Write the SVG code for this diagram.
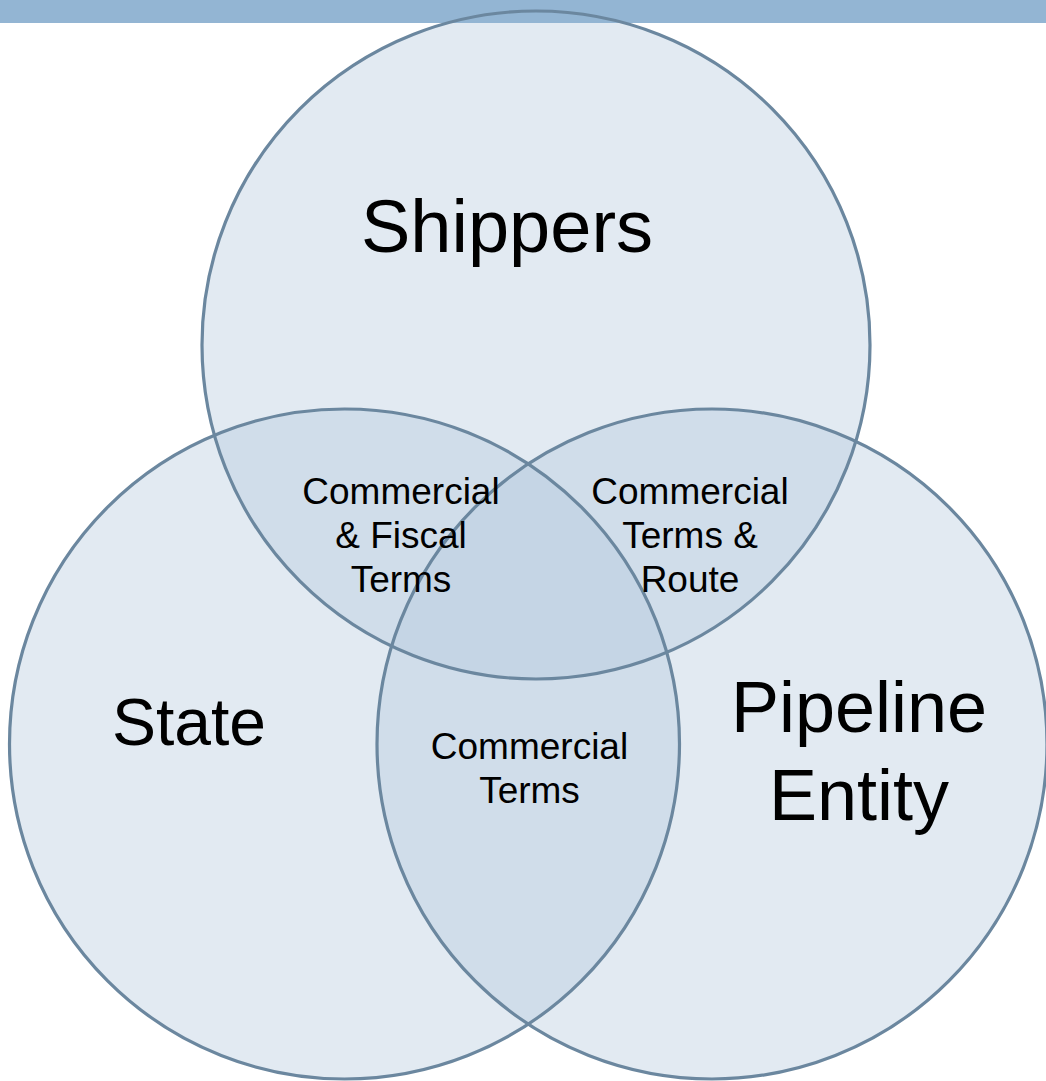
<svg xmlns="http://www.w3.org/2000/svg" width="1046" height="1081" viewBox="0 0 1046 1081">
<style>
.fill{fill:#B3C8DD;fill-opacity:0.38;stroke:none}
.ring{fill:none;stroke:#6B879F;stroke-width:3.2}
.big{font-family:"Liberation Sans",Arial,sans-serif;fill:#000;text-anchor:middle}
.small{font-family:"Liberation Sans",Arial,sans-serif;font-size:37px;fill:#000;text-anchor:middle}
</style>
<rect width="1046" height="1081" fill="#FFFFFF"/>
<g id="fills">
<circle class="fill" cx="536" cy="345" r="334"/>
<circle class="fill" cx="344.5" cy="744" r="335"/>
<circle class="fill" cx="712" cy="744" r="335"/>
</g>
<rect id="topbar" x="0" y="0" width="1046" height="23" fill="#93B5D3"/>
<g id="connectors"></g>
<g id="shippers">
<circle class="ring" cx="536" cy="345" r="334"/>
<text class="big" x="507" y="252" font-size="74">Shippers</text>
</g>
<g id="state">
<circle class="ring" cx="344.5" cy="744" r="335"/>
<text class="big" x="189" y="745" font-size="66">State</text>
</g>
<g id="pipeline">
<circle class="ring" cx="712" cy="744" r="335"/>
<text class="big" x="859" y="732" font-size="72">Pipeline</text>
<text class="big" x="859" y="820" font-size="72">Entity</text>
</g>
<g id="label-commercial-fiscal">
<text class="small" x="401" y="504">Commercial</text>
<text class="small" x="401" y="548">&amp; Fiscal</text>
<text class="small" x="401" y="592">Terms</text>
</g>
<g id="label-commercial-route">
<text class="small" x="690" y="504">Commercial</text>
<text class="small" x="690" y="548">Terms &amp;</text>
<text class="small" x="690" y="592">Route</text>
</g>
<g id="label-commercial">
<text class="small" x="529.5" y="759">Commercial</text>
<text class="small" x="529.5" y="803">Terms</text>
</g>
</svg>
